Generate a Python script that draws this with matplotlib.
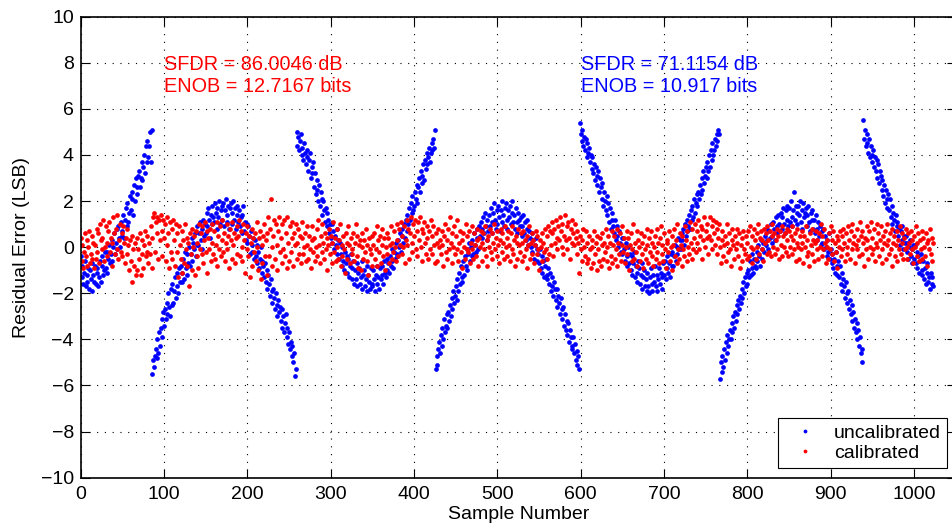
import numpy as np
import matplotlib
matplotlib.use("Agg")
import matplotlib.pyplot as plt

plt.rcParams['font.family'] = ['Liberation Sans', 'DejaVu Sans']

# residual error, in tenths of an LSB, one value per sample
uncal_x10 = [
    -4, -13, -8, -16, -11, -6, -17, -12, -15, -9,
    -18, -10, -14, -7, -19, -12, -15, -8, -16, -11,
    -9, -17, -13, -6, -15, -8, -4, -12, -10, -2,
    -9, -2, -11, -5, 1, -7, -3, 3, -6, 0,
    6, -3, 2, 8, -1, 9, 4, 0, 11, 5,
    7, 14, 4, 12, 17, 9, 19, 11, 15, 22,
    16, 24, 21, 14, 27, 20, 30, 23, 26, 31,
    33, 26, 30, 37, 29, 35, 40, 32, 44, 37,
    46, 39, 44, 50, 37, 51,
    -55, -49, -52, -47,
    -44, -48, -40, -46, -37, -43, -35, -31, -39, -28,
    -34, -27, -31, -24, -29, -20, -26, -30, -18, -25,
    -16, -24, -19, -13, -22, -11, -17, -20, -9, -15,
    -8, -15, -11, -5, -14, -2, -9, -12, -3, -7,
    0, -8, -3, 4, -6, 2, -1, 6, -4, 1,
    9, 1, 6, 11, 3, 8, -1, 12, 5, 10,
    6, 15, 9, 17, 12, 4, 14, 18, 10, 13,
    11, 19, 15, 8, 17, 13, 20, 10, 16, 18,
    12, 19, 9, 16, 21, 14, 11, 18, 8, 17,
    19, 10, 15, 20, 12, 17, 8, 14, 18, 11,
    16, 9, 13, 6, 14, 18, 7, 11, 3, 10,
    2, 9, 5, -3, 7, 1, -2, 4, -5, 3,
    -4, 1, -7, -2, -9, -5, 0, -11, -6, -8,
    -13, -7, -15, -10, -18, -12, -16, -21, -14, -19,
    -24, -18, -22, -27, -20, -25, -30, -23, -28, -26,
    -32, -27, -35, -30, -37, -33, -29, -39, -35, -42,
    -37, -44, -41, -47, -43, -50, -46, -56, -53,
    50,
    44, 48, 42, 46, 49, 40, 43, 38, 45, 41,
    36, 42, 39, 33, 38, 41, 30, 35, 32, 37,
    26, 32, 23, 29, 25, 20, 27, 18, 24, 21,
    14, 20, 16, 11, 17, 9, 15, 12, 6, 10,
    4, 10, 2, 7, -1, 5, 1, 8, -3, 3,
    -5, 2, -3, -8, 0, -6, -10, -2, -7, -4,
    -11, -5, -13, -8, -3, -14, -9, -6, -16, -10,
    -14, -7, -17, -11, -9, -16, -13, -6, -18, -12,
    -10, -17, -14, -8, -19, -12, -15, -18, -9, -16,
    -17, -10, -14, -19, -12, -8, -16, -13, -18, -9,
    -14, -8, -12, -16, -6, -11, -13, -5, -10, -7,
    -11, -4, -8, -1, -6, -9, -2, -5, 2, -3,
    -4, 3, 0, 6, -2, 5, 8, 2, 10, 4,
    12, 7, 14, 10, 17, 12, 19, 15, 22, 16,
    18, 24, 21, 27, 19, 26, 30, 24, 33, 28,
    31, 36, 29, 38, 34, 41, 36, 39, 43, 37,
    41, 45, 42, 47, 43, 51,
    -53, -47, -51, -44,
    -41, -46, -38, -43, -35, -40, -31, -37, -34, -29,
    -35, -28, -32, -25, -30, -22, -27, -19, -24, -21,
    -17, -23, -14, -19, -11, -16, -8, -13, -15, -6,
    -12, -4, -8, -1, -10, -3, 2, -6, 0, -4,
    3, -3, 6, 1, -2, 8, 4, -1, 9, 5,
    11, 4, 8, 13, 6, 15, 9, 3, 12, 7,
    14, 9, 17, 11, 6, 15, 19, 12, 8, 16,
    10, 18, 13, 7, 16, 20, 11, 14, 9, 17,
    19, 12, 8, 16, 13, 18, 10, 15, 20, 11,
    14, 8, 17, 11, 6, 15, 12, 9, 13, 5,
    9, 14, 6, 11, 3, 8, 12, 1, 7, 4,
    0, 6, -2, 3, -5, 1, 4, -6, -1, -3,
    -7, -1, -9, -4, -11, -6, -13, -8, -5, -12,
    -14, -9, -16, -11, -19, -13, -17, -21, -15, -18,
    -23, -18, -26, -21, -24, -29, -22, -27, -31, -26,
    -34, -29, -36, -32, -38, -33, -41, -36, -39, -43,
    -44, -39, -46, -42, -49, -45, -51, -47, -53,
    54,
    49, 46, 51, 44, 48, 42, 47, 39, 45, 41,
    43, 37, 40, 34, 39, 32, 36, 29, 35, 31,
    27, 33, 24, 30, 26, 21, 28, 18, 24, 20,
    16, 22, 14, 19, 11, 17, 8, 15, 12, 9,
    6, 12, 3, 9, 5, 0, 7, 2, -2, 4,
    -3, 4, -1, -6, 2, -4, -8, 0, -7, -3,
    -10, -4, -12, -7, -2, -13, -8, -11, -15, -6,
    -9, -16, -12, -7, -18, -13, -10, -17, -14, -19,
    -11, -17, -20, -13, -9, -16, -19, -12, -15, -8,
    -17, -12, -19, -14, -9, -16, -11, -18, -13, -7,
    -12, -6, -14, -9, -4, -11, -7, -13, -3, -8,
    -2, -8, -4, 1, -6, 0, -3, 4, -1, 3,
    -1, 6, 3, 8, 1, 10, 5, 12, 7, 9,
    14, 8, 16, 12, 18, 13, 21, 15, 19, 23,
    18, 24, 21, 27, 23, 30, 25, 33, 28, 31,
    35, 30, 37, 33, 40, 35, 42, 38, 45, 40,
    42, 47, 44, 49, 46, 51, 49,
    -57, -50, -54,
    -47, -52, -44, -49, -41, -46, -38, -43, -40, -36,
    -40, -33, -37, -30, -35, -28, -32, -25, -29, -23,
    -27, -21, -24, -18, -22, -15, -20, -13, -17, -11,
    -16, -10, -13, -6, -12, -9, -3, -11, -5, -8,
    -9, -2, -6, 1, -4, -8, 3, -1, -5, 2,
    -2, 5, 1, 8, 3, -1, 7, 4, 10, 2,
    5, 11, 8, 3, 13, 9, 6, 14, 10, 7,
    15, 8, 13, 17, 10, 6, 16, 12, 18, 9,
    17, 11, 20, 13, 9, 16, 24, 12, 18, 15,
    10, 18, 14, 20, 11, 16, 8, 19, 13, 15,
    17, 9, 14, 18, 11, 7, 15, 12, 16, 8,
    12, 6, 14, 8, 3, 11, 5, 9, 1, 7,
    2, 8, -1, 5, 0, -4, 3, -2, 6, -5,
    -1, -7, -3, -9, -5, -11, -2, -8, -12, -6,
    -13, -8, -16, -11, -19, -14, -17, -22, -15, -20,
    -24, -19, -27, -23, -29, -25, -32, -28, -35, -31,
    -37, -33, -40, -36, -43, -39, -46, -44, -50,
    55,
    47, 51, 44, 49, 45, 41, 47, 39, 44, 40,
    37, 42, 35, 39, 33, 38, 30, 36, 28, 33,
    31, 25, 29, 22, 27, 19, 25, 21, 17, 23,
    16, 21, 13, 18, 10, 15, 12, 7, 14, 9,
    11, 5, 8, 1, 7, 3, 9, -1, 5, 2,
    5, -2, 2, -5, 0, 3, -4, -1, -7, 1,
    -5, 1, -7, -2, -9, -4, -11, -6, -3, -10,
    -12, -6, -14, -9, -16, -11, -7, -15, -13, -18,
    -11, -16, -13, -17,
]

cal_x10 = [
    4, -6, 1, -9, -2, 6, -4, -8, 3, 0, 7, -7, -3, 5, -5, 2,
    -9, 1, -5, 8, -2, 6, -7, 10, 3, -1, 4, 12, -6, 0, 9, 2,
    -4, 7, 11, -2, 4, -8, 2, 13, 6, -3, 8, -1, 14, -5, 3, 10,
    -2, 6, -4, 9, 2, -7, 4, -3, 8, 1, -10, 3, -6, 5, -15, -1,
    -8, 2, -12, 4, -10, -1, -5, 6, -12, -3, 3, -9, 1, 7, -4, -2,
    5, -7, 2, -3, 9, -9, 4, 13, 15, -2, 11, 6, 13, -5, 12, 3,
    14, 7, -4, 12, 4, 10, -6, 13, 1, 6, -9, 11, -2, 8, -5, 12,
    3, -8, 10, -2, 6, -13, 9, 1, -5, 7, -11, 3, -7, 10, -1, 4,
    -8, 2, -17, 6, -3, 8, -10, 0, 5, -12, 7, -4, 2, -9, 10, -1,
    6, -3, 9, -7, 3, 11, -2, 7, -11, 4, -1, 8, -6, 2, 10, -3,
    7, -5, 1, 11, -8, 5, -1, 9, -4, 3, 12, -2, 6, -6, 2, 10,
    -1, 5, -9, 8, 3, -5, 11, 1, 6, -7, 4, 9, -3, 5, 12, -4,
    7, 0, -6, 10, 3, -11, 6, -1, 9, -4, 5, -13, 2, 8, -8, 4,
    -2, 6, -6, 11, 0, -10, 4, 7, -14, 1, -7, 5, 10, -4, 3, -12,
    6, 13, -4, 8, 21, 0, -8, 5, 12, -5, 10, 1, -10, 7, 13, -2,
    4, -7, 10, -1, 12, -4, 6, -9, 13, 2, -6, 9, -2, 11, 4, -8,
    6, 1, 10, -5, 2, 8, -3, 5, -7, 4, 11, -3, 0, 6, -6, 9,
    1, -5, 5, -1, -9, 3, 9, -2, 4, -6, 0, 8, -4, 12, 1, -7,
    5, -2, 10, 2, -5, 6, -1, -10, 4, 1, 8, -3, 5, -7, 2, 11,
    -2, 4, -6, 0, 8, -5, 3, 10, -8, 1, -4, 5, -1, -11, 6, 2,
    -5, 9, 1, -7, 4, -1, -3, 6, -6, 2, 10, -4, 5, -9, 1, 3,
    -10, 0, 6, -5, 3, -2, 8, -6, 1, -12, 4, -1, -3, 5, -8, 1,
    6, -5, -1, 9, -8, 3, -2, 5, -7, 1, 8, -4, 4, -10, 0, 6,
    -3, 4, -7, 1, 9, -5, 2, -2, 7, 0, -6, 10, 3, -4, 8, 1,
    11, -3, 5, 0, 9, -7, 3, 12, 1, 8, -5, 6, 13, 2, -2, 10,
    5, 12, -1, 7, -4, 11, 3, 13, 0, 8, -6, 6, 11, 2, -3, 9,
    4, -5, 7, -1, 12, 5, -3, 9, 1, -7, 6, 2, -6, 8, 0, 3,
    -3, 7, 1, -8, 5, 10, -2, 3, -5, 8, -1, 13, 2, -7, 6, 0,
    9, -3, 5, -1, 12, -6, 2, 7, -2, 3, -9, 6, 0, -5, 10, -1,
    5, -2, 7, -7, 2, 9, -1, -5, 6, 1, -4, 8, 3, -8, 4, 0,
    7, 2, -6, 6, -1, 9, -4, 3, -8, 5, 0, 8, -2, 6, -5, 2,
    10, -1, 4, -4, 7, 1, -7, 3, 8, -2, 6, 2, -5, 9, 0, 4,
    -4, 7, 1, -6, 6, -1, 9, -3, 3, -8, 5, 2, -5, 8, 1, -2,
    6, -6, 2, 7, -4, 3, -1, -9, 5, 1, 9, -5, 2, 6, -3, 3,
    -7, 1, 7, -3, 5, -1, -10, 3, 0, -6, 6, 2, -2, 8, -1, -5,
    5, 9, -3, 7, 1, 6, 11, -4, 8, 2, 12, 4, -1, 9, 3, 13,
    7, 0, 10, -3, 5, 14, 3, 9, -1, 11, 4, -5, 8, 2, 12, 6,
    1, 10, 4, -3, 7, 2, -11, 5, -1, 3, -6, 8, 0, -4, 7, -7,
    2, -5, 5, -1, -9, 3, 0, -7, 7, -3, 2, -10, 5, -1, -6, 4,
    -8, 1, 6, -5, 2, -2, 8, -6, 0, 5, -9, 2, -4, 7, -7, 1,
    5, -5, -1, 8, -8, 2, -3, 6, -6, 1, 9, -2, 4, -7, 0, 7,
    -3, 4, -10, 1, 6, -6, -1, 10, -5, 2, -2, 7, -8, 3, 0, -6,
    6, -3, 2, -9, 5, -1, -5, 8, 1, -7, 4, -2, 7, -4, 2, -8,
    0, 5, -5, 8, -2, 2, -7, 4, 9, -3, 1, -6, 6, -1, -9, 3,
    2, -2, 7, -6, 0, 5, -10, 1, 8, -4, 3, -7, 10, -1, -5, 6,
    1, -8, 5, -1, -4, 9, 3, -6, 7, 0, -3, 11, 2, -5, 8, -1,
    4, 10, -2, 7, 2, 12, -1, 5, 9, -5, 8, 3, 13, 0, 7, 4,
    10, -3, 5, 13, 3, 9, -1, 12, 6, 1, 11, -3, 8, 4, 10, 0,
    -7, 3, 7, -4, 1, 5, -6, 2, 10, -2, 6, -1, -8, 3, 8, 1,
    -5, 5, -1, 8, 2, -4, 6, -9, 1, 4, -6, 7, -1, -3, 5, -5,
    2, 7, -4, 9, 0, -7, 5, -1, 8, 3, -5, 6, 0, 10, -3, 4,
    7, -1, 3, -6, 8, 2, 6, -3, 9, 3, -2, 7, -4, 5, 10, 0,
    6, -3, 3, 8, -1, 5, -5, 7, 1, 9, -4, 5, 0, 6, -2, 8,
    3, -4, 7, 0, 5, 9, -3, 3, -1, 6, -6, 2, 8, 0, -5, 5,
    -1, 7, 2, -7, 5, 0, 9, -4, 3, -2, -8, 6, 1, -3, 8, 3,
    -6, 2, 7, -1, 3, -5, 6, 0, 10, -4, 5, -1, 8, 2, -7, 3,
    0, -5, 6, -1, 9, -3, 3, 7, -6, 2, -2, 5, -9, 3, 0, 7,
    -4, 5, -1, 8, 2, -6, 6, 0, -3, 9, 3, -5, 7, -1, 10, 2,
    5, -7, 1, 8, -1, 3, -4, 11, 5, -3, 7, 2, -8, 4, -1, 9,
    3, -5, 7, 0, 11, -3, 4, -1, 8, -6, 2, 10, 0, 6, -4, 3,
    9, -1, -7, 5, 2, 7, -5, 1, 10, 3, -3, 6, -1, 8, -8, 2,
    5, -4, 1, 7, -6, 3, -1, 9, -3, 6, 2, -5, 4, -1, 8, 0,
    -5, 6, 2, -3, 7, -1, 3, -7, 5, 0, 9, -4, 2, 6, -6, 3,
    -1, 7, -5, 4, 0, -4, 6, 2, -8, 3, -1, 8, -3, 4, -6, 2,
]

uncal = np.array(uncal_x10) / 10.0
cal = np.array(cal_x10) / 10.0
samples = np.arange(len(uncal))

fs = 14

fig = plt.figure(figsize=(9.52, 5.31), dpi=100)
ax = fig.add_axes([0.0848, 0.1004, 0.9191, 0.8682])

ax.plot(samples, uncal, 'o', color='blue', markersize=3.4, markeredgewidth=0,
        label='uncalibrated')
ax.plot(samples, cal, 'o', color='red', markersize=3.4, markeredgewidth=0,
        label='calibrated')

ax.set_xlim(0, 1050)
ax.set_ylim(-10, 10)
ax.set_xticks(np.arange(0, 1001, 100))
ax.set_yticks(np.arange(-10, 11, 2))
ax.tick_params(direction='in', top=True, right=True, length=6.3, width=0.8,
               labelsize=fs)
ax.tick_params(axis='x', pad=6)
ax.tick_params(axis='y', pad=5)
ax.grid(True, color='black', linestyle=(0, (1, 6)), linewidth=0.8)
for s in ax.spines.values():
    s.set_linewidth(1.2)

ax.set_xlabel('Sample Number', fontsize=fs, labelpad=2)
ax.set_ylabel('Residual Error (LSB)', fontsize=fs, labelpad=8)

ax.text(100, 7.68, 'SFDR = 86.0046 dB', color='red', fontsize=14.3, va='baseline')
ax.text(100, 6.72, 'ENOB = 12.7167 bits', color='red', fontsize=14.3, va='baseline')
ax.text(600, 7.68, 'SFDR = 71.1154 dB', color='blue', fontsize=14.3, va='baseline')
ax.text(600, 6.72, 'ENOB = 10.917 bits', color='blue', fontsize=14.3, va='baseline')

leg = ax.legend(loc='lower right', bbox_to_anchor=(0.990, 0.021),
                borderaxespad=0, fontsize=fs, fancybox=False, framealpha=1,
                edgecolor='black', handlelength=2.2, handletextpad=0.4,
                borderpad=0.3, labelspacing=0.15, markerscale=0.8)
leg.get_frame().set_linewidth(0.8)

fig.savefig('out.png', dpi=100)
